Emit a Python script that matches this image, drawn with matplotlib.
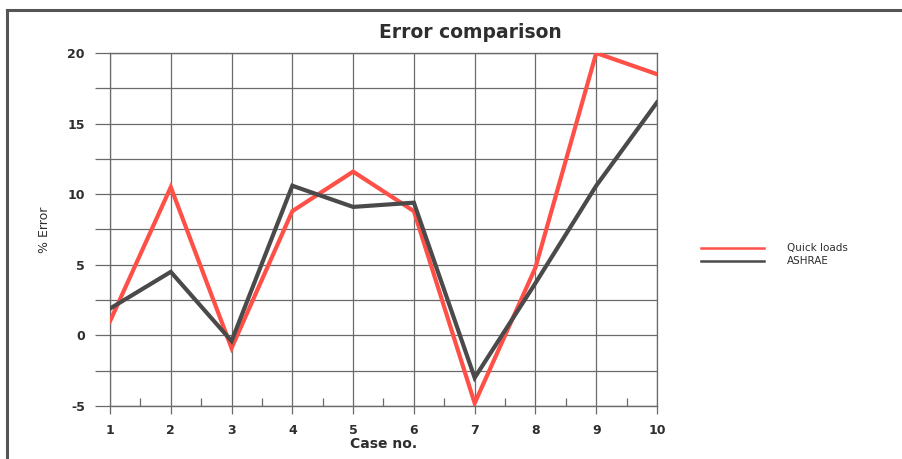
import matplotlib
matplotlib.use("Agg")
import matplotlib.pyplot as plt
from matplotlib.lines import Line2D

plt.rcParams["axes.unicode_minus"] = False

cases = [1, 2, 3, 4, 5, 6, 7, 8, 9, 10]
quick_loads = [1.0, 10.5, -0.9, 8.8, 11.6, 8.8, -4.8, 4.8, 20.0, 18.5]
ashrae = [1.9, 4.5, -0.4, 10.6, 9.1, 9.4, -3.0, 3.7, 10.6, 16.5]
y_ticks = [-5, 0, 5, 10, 15, 20]

RED = "#ff5048"
DARK = "#4a4a4a"
GRID = "#6a6a6a"
TXT = "#2e2e2e"

fig = plt.figure(figsize=(9.03, 4.59), dpi=100)
ax = fig.add_axes([110 / 903, 1 - 406 / 459, (657 - 110) / 903, (406 - 53) / 459])

ax.plot(cases, quick_loads, color=RED, lw=3.0, solid_joinstyle="miter", zorder=3)
ax.plot(cases, ashrae, color=DARK, lw=3.0, solid_joinstyle="miter", zorder=4)

ax.set_xlim(1, 10)
ax.set_ylim(-5, 20)
ax.set_xticks(cases)
ax.set_xticks([c + 0.5 for c in cases[:-1]], minor=True)
ax.set_yticks(y_ticks)
ax.set_yticks([t + 2.5 for t in y_ticks[:-1]], minor=True)
ax.grid(True, which="major", axis="both", color=GRID, lw=0.9)
ax.grid(True, which="minor", axis="y", color=GRID, lw=0.9)
for s in ax.spines.values():
    s.set_visible(False)
for xv in (1, 10):
    ax.axvline(xv, color=GRID, lw=0.9, clip_on=False, zorder=2)
for yv in (-5, 20):
    ax.axhline(yv, color=GRID, lw=1.0, clip_on=False, zorder=2)

ax.tick_params(axis="y", which="both", direction="out", length=11, width=0.9,
               color=GRID, pad=7)
ax.tick_params(axis="x", which="major", direction="out", length=6, width=0.9,
               color=GRID, pad=7)
ax.tick_params(axis="x", which="minor", direction="in", length=6, width=0.9,
               color=GRID)
for lab in ax.get_xticklabels() + ax.get_yticklabels():
    lab.set_fontweight("bold")
    lab.set_fontsize(9)
    lab.set_color(TXT)

ax.set_xlabel("Case no.", fontsize=10, fontweight="bold", color=TXT, labelpad=0)
ax.set_ylabel("% Error", fontsize=9, color=TXT, labelpad=12)
fig.text(470 / 903, 1 - 33 / 459, "Error comparison", fontsize=13.5, fontweight="bold",
         color=TXT, ha="center", va="center")

handles = [Line2D([], [], color=RED, lw=1.8), Line2D([], [], color=DARK, lw=1.8)]
fig.legend(handles, ["Quick loads", "ASHRAE"], loc="upper left",
           bbox_to_anchor=(692 / 903, 1 - 234 / 459), frameon=False,
           fontsize=7.5, handlelength=6.0, handletextpad=2.2, labelspacing=0.3,
           labelcolor=TXT)

fig.add_artist(Line2D([7 / 903, 7 / 903], [0, 1 - 10 / 459], transform=fig.transFigure,
                      color="#555555", lw=2.2))
fig.add_artist(Line2D([7 / 903, 1], [1 - 10 / 459, 1 - 10 / 459], transform=fig.transFigure,
                      color="#555555", lw=2.2))

fig.savefig("out.png", dpi=100)
